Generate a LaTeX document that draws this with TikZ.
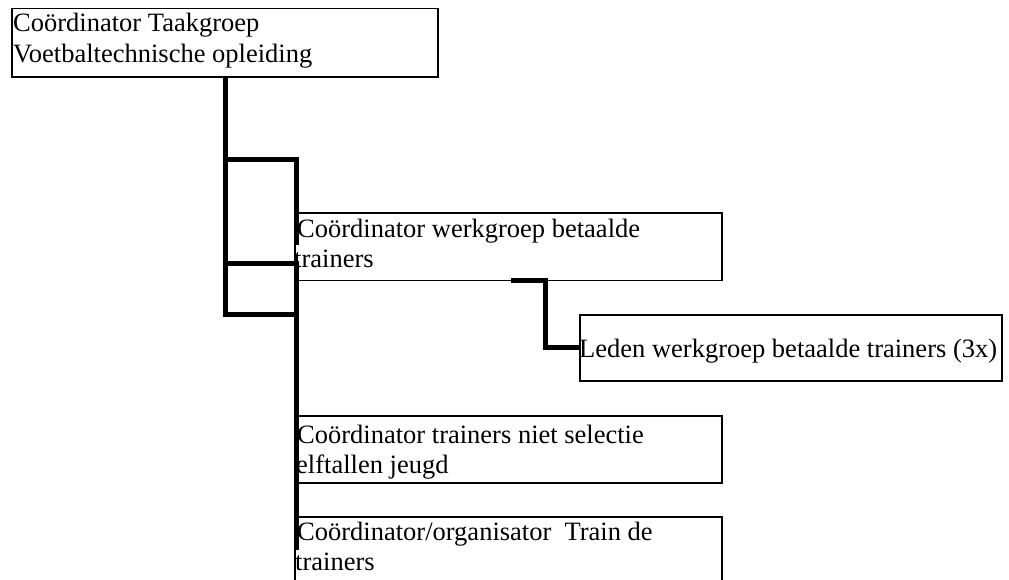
\documentclass[tikz,border=0pt]{standalone}
\usepackage{fontspec}
\setmainfont{Liberation Serif}
\begin{document}
\begin{tikzpicture}[x=1pt,y=-1pt,
  box/.style={draw=black,line width=1.3pt,anchor=north west,inner sep=0pt,outer sep=0pt},
  conn/.style={draw=black,line width=5pt,line join=miter,line cap=butt},
  txt/.style={anchor=base west,inner sep=0pt,font=\fontsize{26.5}{30.5}\selectfont}]
\useasboundingbox (0,0) rectangle (1009,580);
\clip (0,0) rectangle (1009,580);
% boxes
\node[box,minimum width=426pt,minimum height=68.5pt] (b0) at (12,8.5) {};
\node[box,minimum width=427pt,minimum height=67.5pt] (b1) at (295,213) {};
\node[box,minimum width=422pt,minimum height=66pt] (b2) at (580,315) {};
\node[box,minimum width=427pt,minimum height=67pt] (b3) at (295,416) {};
\node[box,minimum width=427pt,minimum height=90pt] (b4) at (295,517) {};
% texts
\node[txt] (t0a) at (13,32) {Coördinator Taakgroep};
\node[txt] (t0b) at (13,63) {Voetbaltechnische opleiding};
\node[txt] (t1a) at (297,237) {Coördinator werkgroep betaalde};
\node[txt] (t1b) at (294,267) {trainers};
\node[txt] (t2a) at (579,357) {Leden werkgroep betaalde trainers (3x)};
\node[txt] (t3a) at (297,443) {Coördinator trainers niet selectie};
\node[txt] (t3b) at (296,473) {elftallen jeugd};
\node[txt] (t4a) at (297,540) {Coördinator/organisator~~Train de};
\node[txt] (t4b) at (295,570) {trainers};
% junction coordinates
\coordinate (m1) at (225,160);
\coordinate (m2) at (225,263);
\coordinate (m3) at (225,314);
\coordinate (r1) at (296,160);
\coordinate (r1e) at (296,245);
\coordinate (r2) at (296,263);
\coordinate (r2e) at (296,550);
\coordinate (r3) at (296,314);
\coordinate (s1) at (511,280.5);
\coordinate (s2) at (545,280.5);
\coordinate (s3) at (545,347);
% connectors
\draw[conn] (b0.south) -- (m3) -- (r3);
\draw[conn] (m1) -- (r1) -- (r1e);
\draw[conn] (m2) -- (r2) -- (r2e);
\draw[conn] (s1) -- (s2) -- (s3) -- (s3 -| b2.west);
\end{tikzpicture}
\end{document}
